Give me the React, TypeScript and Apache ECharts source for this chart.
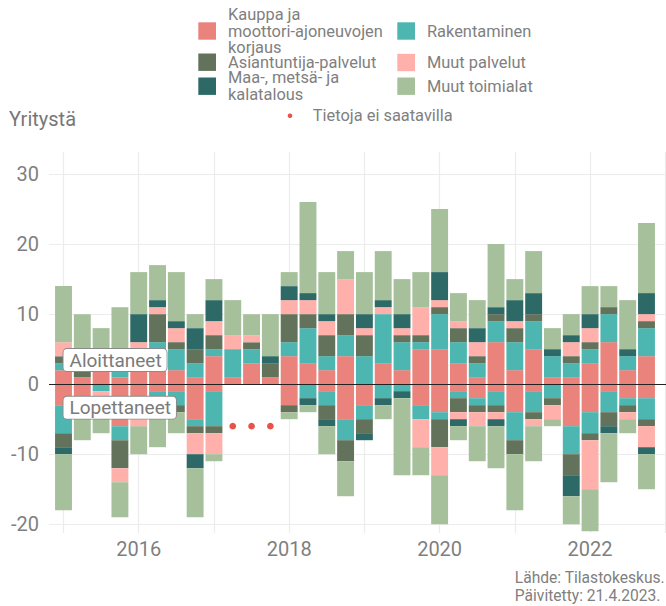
import React, { useEffect, useRef } from "react";
import * as echarts from "echarts";

// Quarters 2015Q1 .. 2022Q4
const quarters = [
  "2015Q1", "2015Q2", "2015Q3", "2015Q4",
  "2016Q1", "2016Q2", "2016Q3", "2016Q4",
  "2017Q1", "2017Q2", "2017Q3", "2017Q4",
  "2018Q1", "2018Q2", "2018Q3", "2018Q4",
  "2019Q1", "2019Q2", "2019Q3", "2019Q4",
  "2020Q1", "2020Q2", "2020Q3", "2020Q4",
  "2021Q1", "2021Q2", "2021Q3", "2021Q4",
  "2022Q1", "2022Q2", "2022Q3", "2022Q4",
];

const seriesNames = [
  "Kauppa ja moottori-ajoneuvojen korjaus",
  "Rakentaminen",
  "Asiantuntija-palvelut",
  "Muut palvelut",
  "Maa-, metsä- ja kalatalous",
  "Muut toimialat",
];
const legendLabels = [
  "Kauppa ja\nmoottori-ajoneuvojen\nkorjaus",
  "Rakentaminen",
  "Asiantuntija-palvelut",
  "Muut palvelut",
  "Maa-, metsä- ja\nkalatalous",
  "Muut toimialat",
];
const seriesColors = ["#E9837C", "#4DB6B1", "#63725B", "#FFB0AB", "#2D6A67", "#A5C09A"];

// Aloittaneet (started companies)
const kauppaStarted = [2, 1, 2, 1, 2, 2, 2, 1, 4, 1, 3, 1, 4, 3, 2, 4, 0, 3, 2, 5, 5, 3, 1, 6, 2, 5, 1, 1, 3, 6, 2, 4];
const rakStarted = [1, 0, 0, 1, 3, 4, 3, 2, 1, 4, 2, 0, 2, 5, 2, 3, 4, 7, 4, 1, 5, 3, 2, 3, 4, 4, 3, 2, 2, 4, 2, 4];
const asiaStarted = [1, 1, 0, 0, 0, 4, 1, 2, 2, 0, 1, 2, 4, 2, 3, 3, 3, 0, 1, 1, 1, 2, 1, 1, 2, 1, 0, 1, 1, 1, 0, 1];
const muutPalvStarted = [2, 0, 0, 0, 1, 1, 2, 0, 2, 2, 1, 0, 2, 2, 2, 5, 1, 1, 1, 4, 1, 1, 2, 0, 1, 0, 0, 2, 2, 0, 0, 1];
const maaStarted = [0, 0, 0, 0, 4, 1, 1, 3, 3, 0, 0, 1, 2, 1, 1, 0, 2, 1, 2, 0, 4, 0, 2, 1, 3, 3, 1, 1, 2, 0, 1, 3];
const muutToimStarted = [8, 8, 6, 9, 6, 5, 7, 2, 3, 5, 3, 6, 2, 13, 6, 4, 6, 7, 5, 5, 9, 4, 4, 9, 3, 6, 3, 3, 4, 3, 7, 10];

// Lopettaneet (closed companies), null = not available
const N = null;
const kauppaEnded = [3, 3, 0, 6, 5, 1, 1, 5, 1, N, N, N, 3, 0, 1, 5, 3, 0, 0, 3, 4, 1, 2, 1, 4, 1, 0, 6, 4, 1, 2, 2];
const rakEnded = [4, 0, 1, 2, 0, 3, 2, 1, 5, N, N, N, 0, 2, 2, 3, 2, 2, 1, 2, 1, 1, 1, 2, 4, 3, 2, 4, 3, 3, 1, 3];
const asiaEnded = [2, 0, 0, 4, 0, 0, 1, 1, 1, N, N, N, 1, 0, 2, 3, 2, 0, 0, 0, 4, 2, 1, 1, 2, 1, 1, 3, 1, 2, 1, 1];
const muutPalvEnded = [0, 0, 1, 2, 1, 0, 0, 3, 3, N, N, N, 0, 0, 0, 0, 0, 0, 0, 4, 4, 1, 2, 1, 0, 1, 2, 0, 7, 0, 1, 3];
const maaEnded = [1, 0, 0, 0, 0, 0, 0, 2, 0, N, N, N, 0, 1, 1, 0, 1, 1, 1, 0, 0, 1, 0, 1, 0, 0, 0, 3, 0, 1, 0, 1];
const muutToimEnded = [8, 5, 5, 5, 4, 5, 3, 7, 1, N, N, N, 1, 1, 4, 5, 0, 2, 11, 4, 7, 2, 5, 6, 8, 5, 1, 4, 6, 7, 2, 5];

const missingQuarters = ["2017Q2", "2017Q3", "2017Q4"];
const missingMarkerValue = -6;
const missingName = "Tietoja ei saatavilla";

const yTickValues = [-20, -10, 0, 10, 20, 30];
const yearLabels = ["2016", "2018", "2020", "2022"];
const gridYears = ["2015", "2016", "2017", "2018", "2019", "2020", "2021", "2022", "2023"];

const startedLabel = "Aloittaneet";
const endedLabel = "Lopettaneet";
const titleText = "Yritystä";
const sourceText = "Lähde: Tilastokeskus.\nPäivitetty: 21.4.2023.";

const startedSets = [kauppaStarted, rakStarted, asiaStarted, muutPalvStarted, maaStarted, muutToimStarted];
const endedSets = [kauppaEnded, rakEnded, asiaEnded, muutPalvEnded, maaEnded, muutToimEnded];

const FONT = "Roboto, 'Noto Sans', sans-serif";
const TEXT_GRAY = "#7f7f7f";

// layout constants (pixels)
const PANEL_LEFT = 49;
const PANEL_TOP = 152;
const PANEL_BOTTOM = 73;
const QUARTER_PX = 18.806;
const FIRST_CENTER = 63.5;
const Y_MIN = -21.25;
const Y_MAX = 33.15;
const X_MIN = -(FIRST_CENTER - PANEL_LEFT) / QUARTER_PX;
const X_MAX = X_MIN + (666 - PANEL_LEFT) / QUARTER_PX;

const yearPos = (y: string) => (Number(y) - 2015) * 4;

function buildOption() {
  const toValues = (arr: (number | null)[], sign: number) =>
    arr.map((v) => (v === null || v === 0 ? null : sign * v));

  const barSeries: any[] = [];
  [1, -1].forEach((sign) => {
    seriesNames.forEach((name, k) => {
      barSeries.push({
        type: "bar",
        name,
        stack: "total",
        xAxisIndex: 1,
        yAxisIndex: 1,
        barWidth: 16.9,
        itemStyle: { color: seriesColors[k] },
        emphasis: { disabled: true },
        data: toValues(sign > 0 ? startedSets[k] : endedSets[k], sign),
        z: 2,
      });
    });
  });

  const missingSeries = {
    type: "scatter",
    name: missingName,
    xAxisIndex: 0,
    yAxisIndex: 0,
    symbol: "circle",
    symbolSize: 6.7,
    itemStyle: { color: "#E8524A", opacity: 1 },
    emphasis: { disabled: true },
    z: 8,
    data: missingQuarters.map((q) => [quarters.indexOf(q), missingMarkerValue]),
    markLine: {
      silent: true,
      symbol: "none",
      z: 1,
      animation: false,
      label: { show: false },
      emphasis: { disabled: true },
      lineStyle: { color: "#ececec", width: 1.2, type: "solid", opacity: 1 },
      data: [
        ...yTickValues.filter((v) => v !== 0).map((v) => ({ yAxis: v })),
        ...gridYears.map((y) => ({ xAxis: yearPos(y) })),
      ],
    },
  };

  const labelBox = {
    show: true,
    position: "right",
    distance: 0,
    color: "#7a7a7a",
    opacity: 1,
    fontFamily: FONT,
    fontSize: 19,
    lineHeight: 19,
    backgroundColor: "#ffffff",
    borderColor: "#8a8a8a",
    borderWidth: 0.9,
    borderRadius: 3.5,
    padding: [2, 5, 1, 6],
  };
  const annotationSeries = {
    type: "scatter",
    name: "annotations",
    xAxisIndex: 0,
    yAxisIndex: 0,
    symbol: "circle",
    symbolSize: 0.01,
    silent: true,
    z: 10,
    itemStyle: { color: "#ffffff", opacity: 1 },
    label: { ...labelBox, formatter: (p: any) => p.data.text },
    data: [
      { value: [0, 3.45], text: startedLabel },
      { value: [0, -3.36], text: endedLabel },
    ],
    markLine: {
      silent: true,
      symbol: "none",
      z: 6,
      animation: false,
      label: { show: false },
      emphasis: { disabled: true },
      lineStyle: { color: "#222222", width: 1.2, type: "solid", opacity: 1 },
      data: [{ yAxis: 0 }],
    },
  };

  const legendBase = {
    orient: "vertical",
    padding: 0,
    selectedMode: false,
    icon: "rect",
    itemWidth: 17.7,
    itemHeight: 17.4,
    itemStyle: { opacity: 1 },
    textStyle: {
      color: "#808080",
      fontFamily: FONT,
      fontSize: 16.4,
      lineHeight: 16.5,
      padding: [0, 0, 0, 7],
    },
    formatter: (name: string) => legendLabels[seriesNames.indexOf(name)] ?? name,
  };
  const legendPos = [
    [198.3, 6.25],
    [397.3, 22.3],
    [198.3, 53.5],
    [397.3, 53.8],
    [198.3, 69.7],
    [397.3, 77.5],
  ];
  const legends: any[] = seriesNames.map((name, k) => ({
    ...legendBase,
    left: legendPos[k][0],
    top: legendPos[k][1],
    data: [name],
  }));
  legends.push({
    ...legendBase,
    icon: "circle",
    itemWidth: 4.6,
    itemHeight: 4.6,
    left: 287.7,
    top: 107.5,
    textStyle: { ...legendBase.textStyle, padding: [0, 0, 0, 15.5] },
    data: [missingName],
  });

  const barGridLeft = FIRST_CENTER - QUARTER_PX / 2;
  const barGridWidth = QUARTER_PX * quarters.length;

  return {
    animation: false,
    backgroundColor: "#ffffff",
    textStyle: { fontFamily: FONT },
    title: {
      text: titleText,
      left: 9,
      top: 109,
      padding: 0,
      textStyle: { color: "#777777", fontSize: 20, fontWeight: "normal", fontFamily: FONT },
    },
    legend: legends,
    grid: [
      {
        left: PANEL_LEFT,
        right: 0,
        top: PANEL_TOP,
        bottom: PANEL_BOTTOM,
        containLabel: false,
        outerBoundsMode: "none",
      },
      {
        left: barGridLeft,
        width: barGridWidth,
        top: PANEL_TOP,
        bottom: PANEL_BOTTOM,
        containLabel: false,
        outerBoundsMode: "none",
      },
    ],
    xAxis: [
      {
        type: "value",
        gridIndex: 0,
        min: X_MIN,
        max: X_MAX,
        axisLine: { show: false },
        axisTick: { show: false },
        splitLine: { show: false },
        axisLabel: {
          customValues: yearLabels.map(yearPos),
          formatter: (v: number) => yearLabels.find((y) => yearPos(y) === Math.round(v)) ?? "",
          color: TEXT_GRAY,
          fontSize: 20,
          fontFamily: FONT,
          margin: 6,
        },
      },
      {
        type: "category",
        gridIndex: 1,
        data: quarters,
        boundaryGap: true,
        axisLine: { show: false },
        axisTick: { show: false },
        splitLine: { show: false },
        axisLabel: { show: false },
      },
    ],
    yAxis: [
      {
        type: "value",
        gridIndex: 0,
        min: Y_MIN,
        max: Y_MAX,
        axisLine: { show: false },
        axisTick: { show: false },
        splitLine: { show: false },
        axisLabel: {
          customValues: yTickValues,
          color: TEXT_GRAY,
          fontSize: 20,
          fontFamily: FONT,
          margin: 10,
        },
      },
      {
        type: "value",
        gridIndex: 1,
        min: Y_MIN,
        max: Y_MAX,
        axisLine: { show: false },
        axisTick: { show: false },
        splitLine: { show: false },
        axisLabel: { show: false },
      },
    ],
    graphic: [
      {
        type: "text",
        right: 1,
        top: 569,
        silent: true,
        style: {
          text: sourceText,
          fill: TEXT_GRAY,
          font: `15.6px ${FONT}`,
          lineHeight: 18,
          align: "right",
        },
      },
    ],
    series: [...barSeries, missingSeries, annotationSeries],
  };
}

export default function App() {
  const ref = useRef<HTMLDivElement>(null);
  useEffect(() => {
    if (!ref.current) return;
    const chart = echarts.init(ref.current, null, { renderer: "svg" });
    chart.setOption(buildOption() as any);
    return () => chart.dispose();
  }, []);
  return (
    <div
      ref={ref}
      style={{ position: "absolute", left: 0, top: 0, width: 666, height: 606 }}
    />
  );
}
